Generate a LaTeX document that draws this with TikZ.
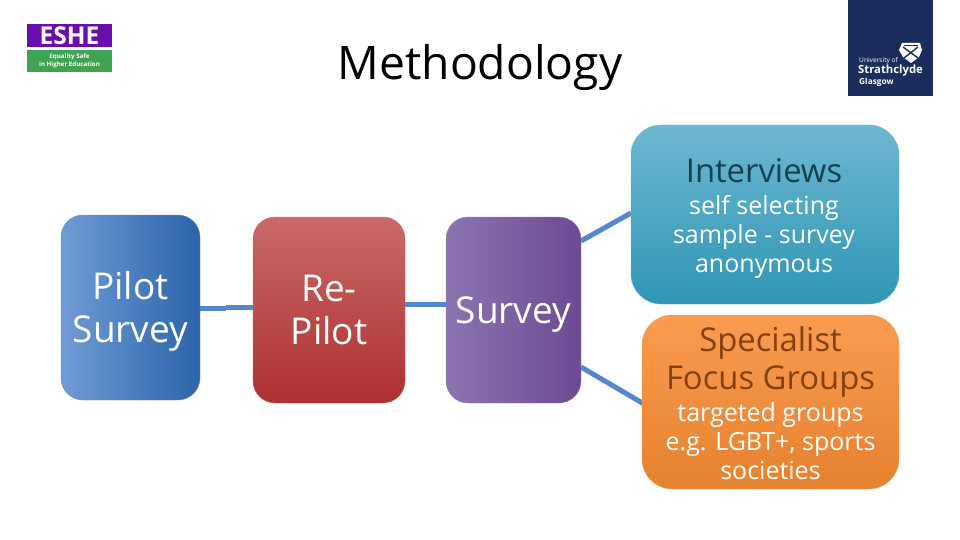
\documentclass[tikz,border=0pt]{standalone}
\usepackage{fontspec}
\setmainfont{Open Sans}
\definecolor{linkc}{HTML}{5586CE}
\definecolor{eshep}{HTML}{6A0DAD}
\definecolor{esheg}{HTML}{3FA350}
\definecolor{strath}{HTML}{1B2D5A}
\definecolor{pilotl}{HTML}{709BD6}
\definecolor{pilotr}{HTML}{2C64AA}
\definecolor{ret}{HTML}{C96A68}
\definecolor{reb}{HTML}{AD3030}
\definecolor{survl}{HTML}{8D74B0}
\definecolor{survr}{HTML}{6C4A94}
\definecolor{intt}{HTML}{6DB8D0}
\definecolor{intb}{HTML}{2F96B4}
\definecolor{focust}{HTML}{FB9B50}
\definecolor{focusb}{HTML}{E5822F}
\definecolor{inttxt}{HTML}{164050}
\definecolor{focustxt}{HTML}{82410F}
\newcommand{\fsl}[2]{\fontsize{#1}{#2}\selectfont}
\tikzset{x=1pt,y=-1pt,
 box/.style={rounded corners=22pt,draw=#1!70!white,line width=.4pt,inner sep=0pt},
 lbl/.style={inner sep=0pt,align=center},
 txt/.style={lbl,text=white},
 bigtxt/.style={txt,font=\fsl{37}{43}},
 bodytxt/.style={txt,font=\fsl{25}{28.7}},
 headtxt/.style={lbl,font=\fsl{32.8}{38}},
 link/.style={draw=linkc,line width=5pt}}
\begin{document}
\begin{tikzpicture}
\useasboundingbox (0,0) rectangle (960,540);
\fill[white] (0,0) rectangle (960,540);
\node[lbl,font=\fsl{46.2}{50}] (title) at (480,68) {Methodology};
% ESHE logo
\fill[eshep] (27,24) rectangle (112,47);
\fill[esheg] (27,50) rectangle (112,72);
\node[lbl,text=white,font=\fsl{24.5}{26}\bfseries] (eshe) at (69.5,36) {ESHE};
\node[lbl,text=white,font=\fsl{6.2}{8.5}\bfseries] (eshesub) at (69.5,61) {Equality Safe\\in Higher Education};
% Strathclyde logo
\fill[strath] (848,0) rectangle (933,96);
\node[lbl,text=white,anchor=west,font=\fsl{6.6}{8}] (uni) at (859,61) {University of};
\node[lbl,text=white,anchor=west,font=\fsl{11.3}{13}\bfseries] (str) at (858,71) {Strathclyde};
\node[lbl,text=white,anchor=west,font=\fsl{8.3}{9}\bfseries] (gla) at (859,82) {Glasgow};
\fill[white] (899,50) -- (902,43) -- (920,43) -- (922,50) -- (919,57) -- (911,63) -- (903,57) -- cycle;
\draw[strath,line width=1.4pt] (903,47) -- (918,58) (918,47) -- (904,58);
\draw[strath,line width=.7pt] (904,45) -- (918,45);
% connector ends
\coordinate (p1) at (200,308);
\coordinate (p2) at (226,308);
\coordinate (p3) at (226,307);
\coordinate (r1) at (253,307);
\coordinate (r2) at (405,304.5);
\coordinate (s1) at (446,304.5);
\coordinate (s2) at (581,241);
\coordinate (i1) at (631,213);
\coordinate (s3) at (581,367);
\coordinate (f1) at (644,404);
\draw[link] (p1) -- (p2); \draw[link] (p3) -- (r1);
\draw[link] (r2) -- (s1);
\draw[link] (s2) -- (i1);
\draw[link] (s3) -- (f1);
% boxes
\node[box=pilotr,minimum width=139pt,minimum height=185pt,left color=pilotl,right color=pilotr] (pilot) at (130.5,307.5) {};
\node[box=reb,minimum width=152pt,minimum height=186pt,top color=ret,bottom color=reb] (repilot) at (329,310) {};
\node[box=survr,minimum width=135pt,minimum height=186pt,left color=survl,right color=survr] (survey) at (513.5,310) {};
\node[box=intb,rounded corners=30pt,minimum width=268pt,minimum height=179pt,top color=intt,bottom color=intb] (interviews) at (765,214.5) {};
\node[box=focusb,rounded corners=30pt,minimum width=257pt,minimum height=174pt,top color=focust,bottom color=focusb] (focus) at (770.5,402) {};
% text
\node[bigtxt] (pilottxt) at (130.5,311.5) {Pilot\\Survey};
\node[bigtxt] (repilottxt) at (329,309.5) {Re-\\Pilot};
\node[bigtxt] (surveytxt) at (513.5,315) {Survey};
\node[headtxt,text=inttxt] (inthead) at (764,171) {Interviews};
\node[bodytxt] (intbody) at (764,237) {self selecting\\sample - survey\\anonymous};
\node[headtxt,text=focustxt] (focushead) at (770.5,362) {Specialist\\Focus Groups};
\node[bodytxt] (focusbody) at (770.5,441) {targeted groups\\e.g. LGBT+, sports\\societies};
\end{tikzpicture}
\end{document}
